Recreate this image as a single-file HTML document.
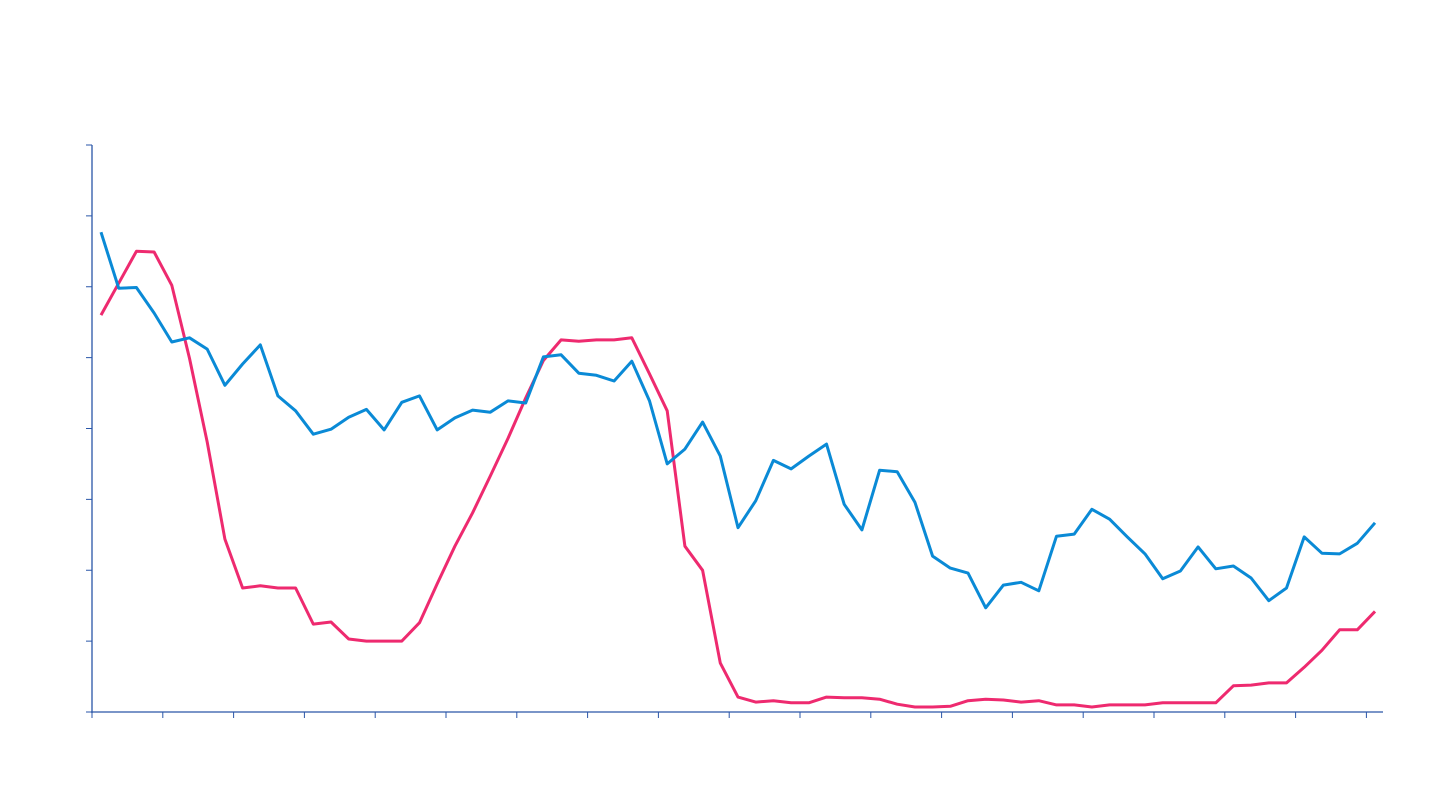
<!DOCTYPE html>
<html><head><meta charset="utf-8"><style>
html,body{margin:0;padding:0;background:#fff;width:1440px;height:810px;overflow:hidden;font-family:"Liberation Sans",sans-serif}
</style></head><body>
<svg id="chart" width="1440" height="810" xmlns="http://www.w3.org/2000/svg"></svg>
<script>
const blueValues=[67.7,59.8,59.9,56.3,52.2,52.8,51.2,46.1,49.1,51.8,44.6,42.5,39.2,39.9,41.6,42.7,39.8,43.7,44.6,39.8,41.5,42.6,42.3,43.9,43.6,50.1,50.4,47.8,47.5,46.7,49.5,43.9,35.0,37.1,40.9,36.1,26.0,29.8,35.5,34.3,36.1,37.8,29.3,25.7,34.1,33.9,29.6,22.0,20.3,19.6,14.7,17.9,18.3,17.1,24.8,25.1,28.6,27.2,24.7,22.3,18.8,19.9,23.3,20.2,20.6,18.9,15.7,17.5,24.7,22.4,22.3,23.8,26.7];
const pinkValues=[56.0,60.5,65.0,64.9,60.2,49.9,38.1,24.4,17.5,17.8,17.5,17.5,12.4,12.7,10.3,10.0,10.0,10.0,12.6,18.1,23.4,28.1,33.3,38.6,44.3,49.6,52.5,52.3,52.5,52.5,52.8,47.7,42.5,23.4,20.0,6.9,2.1,1.4,1.6,1.3,1.3,2.1,2.0,2.0,1.8,1.1,0.7,0.7,0.8,1.6,1.8,1.7,1.4,1.6,1.0,1.0,0.7,1.0,1.0,1.0,1.3,1.3,1.3,1.3,3.7,3.8,4.1,4.1,6.3,8.7,11.6,11.6,14.2];
const yTicks=[0,10,20,30,40,50,60,70,80];
const xTickCount=19;

const NS="http://www.w3.org/2000/svg";
const svg=document.getElementById('chart');
const X0=92,X1=1383,Y0=712,Y1=145;
const y=v=>Y0-(v-0)/(80-0)*(Y0-Y1);
const n=blueValues.length;
const x=i=>101+i*(1274/(n-1));
function mk(tag,attrs){const e=document.createElementNS(NS,tag);for(const k in attrs)e.setAttribute(k,attrs[k]);svg.appendChild(e);return e;}
const axisColor="#2a56a8";
let e=mk('line',{x1:X0,y1:Y1,x2:X0,y2:Y0+1,stroke:axisColor,'stroke-width':1.3});


e=mk('line',{x1:X0-1,y1:Y0,x2:X1,y2:Y0,stroke:axisColor,'stroke-width':1.3});


yTicks.forEach(t=>{const l=mk('line',{x1:X0-6,y1:y(t),x2:X0,y2:y(t),stroke:axisColor,'stroke-width':1});

});
for(let k=0;k<xTickCount;k++){const xx=X0+k*70.8;const l=mk('line',{x1:xx,y1:Y0,x2:xx,y2:Y0+6,stroke:axisColor,'stroke-width':1});

}
function series(vals,color,name){const d=vals.map((v,i)=>(i?'L':'M')+x(i).toFixed(1)+' '+y(v).toFixed(1)).join(' ');
const p=mk('path',{d:d,fill:'none',stroke:color,'stroke-width':3,'stroke-linejoin':'round'});

}
series(pinkValues,'#ee2a6f','pink-series-line');
series(blueValues,'#0a8ad6','blue-series-line');
</script>
</body></html>
